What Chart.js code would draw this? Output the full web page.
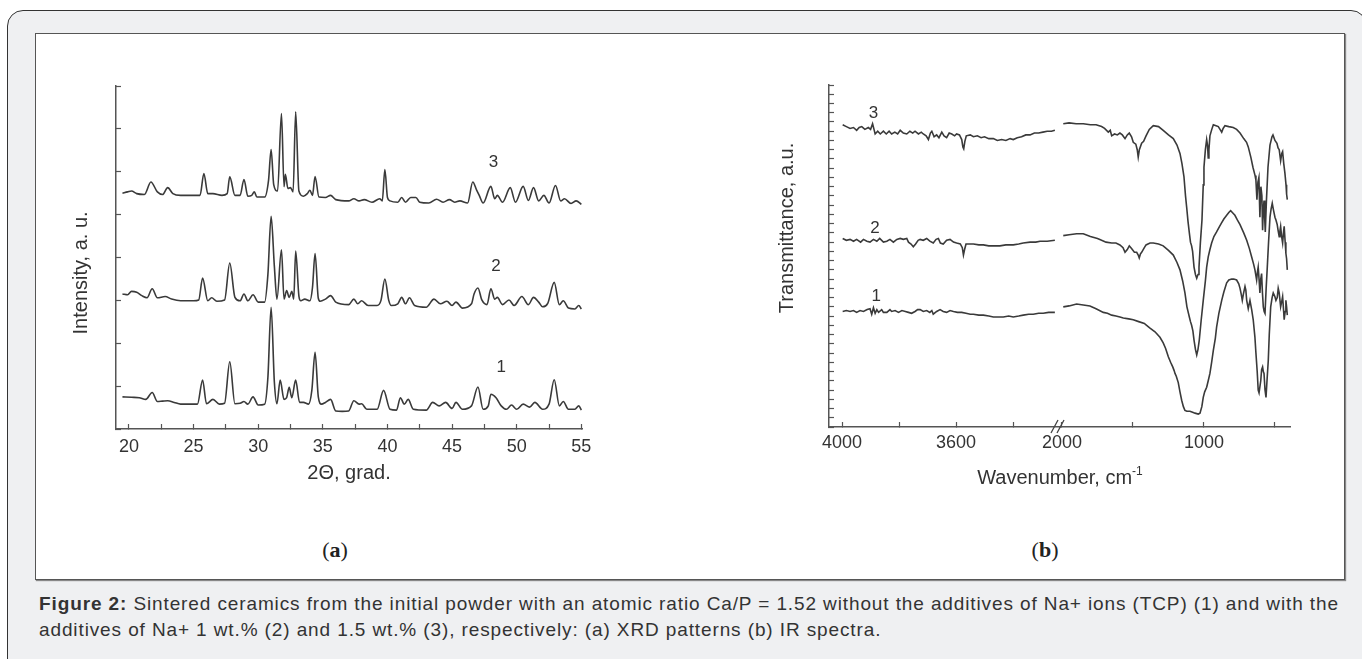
<!DOCTYPE html>
<html>
<head>
<meta charset="utf-8">
<title>Figure 2</title>
<script src="https://cdn.jsdelivr.net/npm/chart.js@4.4.1/dist/chart.umd.min.js"></script>
<style>
  html, body { margin: 0; padding: 0; background: #fff; width: 1362px; height: 659px; overflow: hidden;
               font-family: "Liberation Sans", Arial, sans-serif; }
  #frame { position: absolute; left: 7px; top: 10px; width: 1360px; height: 700px; box-sizing: border-box;
           border: 1.5px solid #333; border-radius: 16px; background: #eff0f2; }
  #figure { position: absolute; left: 35px; top: 33px; width: 1310px; height: 547px; box-sizing: border-box;
            border: 1px solid #555; background: #fff; box-shadow: 1px 1px 1px #888; }
  canvas { position: absolute; }
  #chartXrd { left: 40px; top: 40px; }
  #chartIrHigh { left: 740px; top: 40px; }
  #chartIrLow { left: 1000px; top: 40px; }
  #irTitle { position: absolute; left: 1060px; top: 465px; line-height: 24px; font-size: 20px; color: #333;
             transform: translateX(-50%); white-space: nowrap; }
  #irTitle sup { font-size: 12px; line-height: 0; vertical-align: 9px; }
  .panel-tag { position: absolute; top: 537px; line-height: 26px; font: 22px "Liberation Serif", "DejaVu Serif", serif;
               color: #222; transform: translateX(-50%); }
  #caption { position: absolute; left: 39px; top: 591px; font-size: 19px; letter-spacing: 0.8px; line-height: 26px;
             color: #333; white-space: nowrap; }
</style>
</head>
<body>
<div id="frame"></div>
<div id="figure"></div>
<canvas id="chartXrd" width="600" height="490"></canvas>
<canvas id="chartIrHigh" width="330" height="490"></canvas>
<canvas id="chartIrLow" width="340" height="490"></canvas>
<div id="irTitle">Wavenumber, cm<sup>-1</sup></div>
<div class="panel-tag" style="left:335px">(<b>a</b>)</div>
<div class="panel-tag" style="left:1045px">(<b>b</b>)</div>
<div id="caption"><span id="capLine1"><b>Figure 2:</b> Sintered ceramics from the initial powder with an atomic ratio Ca/P = 1.52 without the additives of Na+ ions (TCP) (1) and with the</span><br>additives of Na+ 1 wt.% (2) and 1.5 wt.% (3), respectively: (a) XRD patterns (b) IR spectra.</div>

<script>
// --- data ---

// XRD, [2theta, intensity a.u.]
const xrd1 = [
  [19.5, 75], [20.2, 74], [20.8, 73], [21.3, 69], [21.8, 85], [22.2, 64], [22.6, 65], [23.0, 66], [23.5, 62],
  [24.0, 58], [24.8, 58], [25.3, 58], [25.7, 114], [26.0, 59], [26.5, 69], [27.0, 58], [27.4, 60], [27.8, 157],
  [28.2, 59], [28.6, 60], [28.9, 64], [29.2, 58], [29.6, 75], [30.0, 56], [30.5, 58], [30.75, 120], [31.0, 284],
  [31.25, 110], [31.45, 59], [31.7, 114], [32.0, 69], [32.2, 73], [32.4, 97], [32.6, 73], [32.9, 114], [33.2, 62],
  [33.5, 62], [33.9, 58], [34.15, 90], [34.4, 179], [34.65, 75], [34.9, 58], [35.2, 62], [35.6, 69], [36.0, 42],
  [36.5, 41], [37.0, 42], [37.4, 66], [37.8, 58], [38.0, 59], [38.4, 46], [39.2, 46], [39.7, 90], [40.2, 46],
  [40.7, 44], [41.0, 73], [41.3, 58], [41.6, 69], [42.0, 46], [43.0, 44], [43.5, 62], [44.0, 54], [44.5, 62],
  [45.0, 48], [45.3, 62], [45.8, 46], [46.5, 54], [47.0, 98], [47.4, 46], [47.8, 54], [48.0, 81], [48.4, 73],
  [48.8, 54], [49.2, 46], [49.6, 56], [50.0, 46], [50.5, 58], [51.0, 51], [51.4, 62], [52.0, 46], [52.5, 58],
  [52.9, 115], [53.3, 54], [53.6, 64], [54.0, 46], [54.5, 46], [54.8, 54], [55.0, 44]
];
const xrd2 = [
  [19.5, 315], [19.9, 313], [20.2, 321], [20.6, 319], [21.0, 311], [21.4, 306], [21.8, 327], [22.2, 306], [22.8, 309],
  [23.3, 303], [24.0, 299], [25.0, 299], [25.4, 301], [25.7, 352], [26.1, 299], [26.4, 306], [26.8, 298], [27.4, 301],
  [27.8, 387], [28.2, 307], [28.6, 299], [28.9, 315], [29.2, 299], [29.6, 313], [30.0, 296], [30.5, 296], [30.75, 360],
  [31.0, 496], [31.25, 380], [31.45, 303], [31.8, 418], [32.0, 303], [32.2, 323], [32.4, 307], [32.6, 321], [32.75, 303],
  [32.9, 415], [33.15, 310], [33.3, 299], [33.6, 303], [34.0, 299], [34.2, 330], [34.4, 409], [34.65, 305], [34.8, 298],
  [35.2, 303], [35.6, 311], [36.0, 296], [37.0, 290], [37.4, 303], [37.7, 292], [38.0, 299], [38.5, 288], [39.2, 288],
  [39.5, 300], [39.8, 350], [40.1, 300], [40.3, 288], [40.8, 292], [41.1, 307], [41.4, 292], [41.7, 306], [42.1, 288],
  [43.0, 284], [43.6, 303], [44.1, 292], [44.6, 298], [45.0, 288], [45.3, 296], [45.8, 282], [46.5, 292], [46.7, 315],
  [47.0, 329], [47.3, 301], [47.7, 290], [48.0, 327], [48.3, 303], [48.5, 307], [48.9, 290], [49.4, 301], [49.8, 288],
  [50.4, 309], [50.9, 290], [51.3, 307], [51.7, 296], [52.0, 285], [52.4, 293], [52.9, 342], [53.3, 290], [53.6, 299],
  [54.0, 282], [54.5, 280], [54.8, 288], [55.0, 280]
];
const xrd3 = [
  [19.5, 550], [19.9, 553], [20.2, 555], [20.6, 549], [21.2, 547], [21.7, 576], [22.2, 553], [22.6, 547], [23.0, 563],
  [23.4, 549], [24.0, 545], [25.0, 545], [25.5, 545], [25.8, 596], [26.1, 549], [26.5, 549], [27.2, 545], [27.6, 549],
  [27.8, 588], [28.2, 545], [28.6, 545], [28.9, 582], [29.2, 543], [29.5, 545], [29.7, 553], [29.9, 541], [30.5, 541],
  [30.8, 580], [31.0, 652], [31.2, 570], [31.5, 555], [31.8, 736], [32.0, 565], [32.1, 594], [32.3, 561], [32.5, 563],
  [32.7, 553], [32.9, 740], [33.15, 555], [33.5, 543], [33.8, 549], [34.0, 557], [34.2, 545], [34.4, 589], [34.7, 541],
  [35.2, 540], [35.6, 545], [36.0, 535], [37.0, 532], [37.4, 537], [37.8, 532], [38.2, 535], [38.8, 529], [39.4, 537],
  [39.6, 532], [39.8, 605], [40.0, 540], [40.2, 532], [40.8, 529], [41.1, 540], [41.4, 529], [41.8, 540], [42.2, 540],
  [42.5, 529], [43.2, 527], [43.8, 536], [44.3, 529], [44.8, 535], [45.2, 529], [45.6, 532], [46.2, 527], [46.6, 576],
  [46.9, 557], [47.1, 545], [47.4, 527], [48.0, 566], [48.3, 537], [48.5, 545], [48.9, 529], [49.5, 563], [49.9, 529],
  [50.5, 566], [50.9, 533], [51.3, 563], [51.7, 532], [52.1, 545], [52.5, 527], [53.0, 568], [53.4, 532], [53.7, 537],
  [54.2, 526], [54.6, 532], [55.0, 524]
];

// IR, [wavenumber, transmittance a.u.] - high range (left of the break)
const ir1High = [
  [3998, 125], [3985, 126], [3972, 125], [3960, 126], [3949, 124], [3937, 126], [3925, 125], [3912, 127], [3902, 128],
  [3896, 122], [3890, 129], [3884, 123], [3878, 127], [3872, 124], [3861, 127], [3855, 124], [3843, 124], [3832, 127],
  [3826, 125], [3814, 126], [3802, 124], [3790, 126], [3778, 125], [3767, 124], [3756, 123], [3744, 125], [3735, 127],
  [3726, 127], [3715, 125], [3703, 126], [3692, 124], [3685, 126], [3680, 122], [3668, 125], [3656, 127], [3645, 125],
  [3633, 124], [3621, 126], [3609, 125], [3595, 124], [3580, 124], [3565, 123], [3550, 122], [3539, 122], [3520, 121],
  [3504, 121], [3485, 120], [3469, 119], [3450, 119], [3434, 119], [3415, 120], [3399, 119], [3380, 120], [3364, 121],
  [3345, 122], [3329, 122], [3310, 123], [3294, 123], [3275, 124], [3253, 124]
];
const ir2High = [
  [3998, 204], [3985, 202], [3972, 203], [3960, 201], [3949, 203], [3935, 200], [3925, 203], [3913, 201], [3902, 200],
  [3890, 203], [3878, 201], [3868, 204], [3855, 200], [3843, 201], [3832, 203], [3820, 200], [3808, 203], [3796, 204],
  [3785, 203], [3773, 204], [3767, 200], [3758, 198], [3750, 195], [3742, 198], [3733, 202], [3726, 203], [3715, 202],
  [3703, 204], [3692, 201], [3680, 199], [3670, 203], [3662, 204], [3655, 199], [3645, 198], [3633, 202], [3621, 203],
  [3609, 200], [3598, 199], [3585, 198], [3578, 194], [3574, 186], [3570, 192], [3565, 198], [3550, 198], [3539, 198],
  [3520, 197], [3504, 197], [3485, 196], [3469, 196], [3446, 196], [3425, 197], [3399, 197], [3380, 198], [3364, 199],
  [3340, 200], [3320, 200], [3305, 201], [3280, 201], [3253, 202]
];
const ir3High = [
  [3998, 327], [3985, 325], [3972, 323], [3960, 324], [3949, 321], [3940, 324], [3931, 325], [3920, 322], [3908, 324],
  [3900, 322], [3893, 328], [3888, 322], [3884, 317], [3875, 320], [3866, 317], [3855, 320], [3845, 317], [3835, 320],
  [3826, 317], [3815, 319], [3805, 317], [3796, 321], [3785, 318], [3773, 317], [3762, 320], [3752, 318], [3744, 320],
  [3732, 317], [3722, 319], [3715, 317], [3705, 315], [3697, 311], [3690, 318], [3685, 320], [3677, 314], [3668, 316],
  [3660, 313], [3650, 319], [3642, 315], [3633, 313], [3624, 318], [3615, 317], [3605, 315], [3598, 317], [3588, 316],
  [3580, 311], [3576, 303], [3573, 301], [3569, 309], [3564, 315], [3550, 316], [3539, 314], [3525, 315], [3512, 313],
  [3500, 314], [3485, 312], [3469, 312], [3455, 310], [3440, 311], [3425, 310], [3410, 312], [3399, 311], [3385, 313],
  [3370, 314], [3355, 316], [3340, 316], [3325, 318], [3310, 318], [3295, 319], [3280, 320], [3265, 320], [3253, 321]
];

// IR - low range (right of the break)
const ir1Low = [
  [1991, 130], [1950, 131], [1897, 133], [1850, 132], [1803, 131], [1760, 128], [1709, 124], [1680, 123], [1650, 121],
  [1620, 120], [1592, 119], [1568, 118], [1530, 117], [1498, 116], [1460, 114], [1420, 112], [1404, 110], [1380, 107],
  [1345, 103], [1310, 97], [1287, 91], [1270, 85], [1251, 76], [1235, 70], [1220, 65], [1210, 61], [1204, 58],
  [1195, 55], [1181, 48], [1169, 38], [1157, 29], [1145, 22], [1134, 18], [1120, 17], [1099, 17], [1080, 16],
  [1063, 15], [1040, 14], [1028, 15], [1015, 22], [1005, 32], [995, 38], [981, 43], [970, 50], [958, 58], [946, 70],
  [934, 83], [920, 96], [911, 108], [895, 123], [875, 137], [860, 146], [840, 156], [825, 159], [805, 160], [790, 160],
  [770, 159], [755, 155], [746, 150], [738, 144], [730, 137], [722, 144], [711, 152], [705, 148], [699, 137], [688, 128],
  [676, 137], [664, 127], [653, 116], [641, 97], [634, 80], [625, 60], [618, 40], [612, 37], [606, 37], [600, 50],
  [594, 62], [587, 65], [582, 60], [577, 58], [570, 40], [563, 32], [556, 50], [547, 72], [540, 100], [530, 130],
  [520, 140], [512, 145], [500, 141], [493, 137], [484, 140], [477, 150], [470, 145], [460, 130], [452, 136], [446, 141],
  [440, 128], [435, 116], [428, 125], [423, 137], [418, 130], [413, 121]
];
const ir2Low = [
  [1991, 207], [1950, 208], [1897, 209], [1850, 209], [1800, 206], [1750, 204], [1721, 202], [1690, 200], [1650, 199],
  [1620, 199], [1592, 197], [1570, 194], [1556, 189], [1540, 192], [1526, 196], [1510, 193], [1490, 189], [1474, 189],
  [1463, 186], [1456, 183], [1448, 187], [1439, 189], [1420, 194], [1408, 197], [1380, 199], [1357, 199], [1320, 198],
  [1287, 196], [1250, 191], [1216, 186], [1190, 178], [1169, 170], [1150, 158], [1134, 145], [1120, 130], [1103, 119],
  [1095, 114], [1087, 110], [1078, 104], [1070, 94], [1060, 84], [1051, 78], [1042, 84], [1033, 94], [1020, 115],
  [1005, 137], [990, 158], [981, 173], [970, 184], [958, 192], [946, 199], [930, 206], [911, 211], [890, 217], [875, 221],
  [860, 225], [840, 229], [825, 232], [812, 234], [800, 232], [782, 229], [765, 224], [746, 219], [720, 210], [699, 202],
  [680, 193], [664, 184], [650, 176], [641, 170], [629, 159], [623, 168], [618, 173], [611, 158], [606, 145], [600, 160],
  [594, 166], [588, 145], [582, 130], [576, 125], [570, 123], [562, 150], [554, 173], [545, 200], [535, 227], [527, 236],
  [519, 242], [512, 236], [500, 227], [493, 224], [484, 219], [477, 212], [470, 206], [465, 212], [460, 217], [453, 206],
  [446, 199], [440, 210], [435, 217], [428, 200], [423, 188], [418, 182], [413, 170]
];
const ir3Low = [
  [1991, 328], [1950, 329], [1900, 328], [1850, 328], [1800, 327], [1760, 327], [1721, 325], [1700, 323], [1674, 319],
  [1660, 321], [1650, 315], [1630, 317], [1610, 316], [1592, 318], [1575, 316], [1556, 312], [1540, 316], [1526, 318],
  [1510, 314], [1498, 308], [1480, 306], [1470, 300], [1463, 292], [1455, 300], [1439, 307], [1425, 309], [1408, 315],
  [1385, 322], [1357, 326], [1320, 325], [1287, 321], [1250, 316], [1216, 312], [1190, 305], [1169, 296], [1155, 285],
  [1141, 271], [1130, 250], [1122, 238], [1112, 222], [1103, 210], [1095, 200], [1087, 196], [1080, 190], [1070, 173],
  [1060, 165], [1051, 161], [1042, 165], [1035, 173], [1025, 200], [1014, 224], [1005, 262], [1000, 281], [990, 300],
  [981, 311], [975, 305], [970, 291], [965, 300], [958, 315], [945, 322], [934, 327], [915, 326], [899, 325], [887, 322],
  [875, 319], [865, 323], [852, 326], [825, 325], [794, 324], [770, 322], [746, 318], [720, 312], [700, 308], [688, 303],
  [670, 292], [655, 281], [640, 272], [634, 267], [627, 246], [620, 265], [613, 270], [606, 227], [599, 260], [592, 250],
  [587, 213], [582, 235], [577, 245], [572, 225], [568, 211], [560, 245], [549, 281], [535, 305], [521, 314], [514, 316],
  [500, 310], [486, 307], [478, 302], [470, 300], [460, 288], [452, 296], [446, 298], [438, 285], [430, 275], [422, 262],
  [418, 252], [413, 246]
];

// tick positions, and the ticks that carry a number (the rest are unlabelled minor ticks)
const xrdTicks = [20, 22.5, 25, 27.5, 30, 32.5, 35, 37.5, 40, 42.5, 45, 47.5, 50, 52.5, 55];
const xrdTickLabels = [20, 25, 30, 35, 40, 45, 50, 55];
const irHighTicks = [4000, 3800, 3600, 3400];
const irLowTicks = [2000, 1500, 1000, 500];
const irTickLabels = [4000, 3600, 2000, 1000];

// curve numbers, placed in data units
const curveNames = ['1', '2', '3'];
const xrdNameAt = [[48.8, 143], [48.4, 380], [48.2, 621]];
const irNameAt = [[3880, 141], [3885, 215], [3890, 339]];

// --- shared styling ---
const LINE = '#3a3a3a';
const AXIS = '#555';
const TEXT = '#333';
const FONT = '"Liberation Sans", Arial, sans-serif';
const tickFont = { family: FONT, size: 18 };

function curve(data, smooth) {
  return { data: data, borderColor: LINE, borderWidth: 1.6, pointRadius: 0, fill: false,
           tension: smooth ? 0.4 : 0, cubicInterpolationMode: smooth ? 'monotone' : 'default' };
}

function xAxis(min, max, tickValues, labels, padding, height) {
  return {
    type: 'linear', min: min, max: max,
    border: { color: AXIS, width: 1.5 },
    grid: { drawOnChartArea: false, tickLength: -5, color: AXIS, tickWidth: 1.2 },
    ticks: { padding: padding, color: TEXT, font: tickFont, maxRotation: 0, autoSkip: false,
             callback: v => labels.includes(v) ? String(v) : '' },
    afterBuildTicks: s => { s.ticks = tickValues.map(v => ({ value: v })); },
    afterFit: s => { s.height = height; }
  };
}

function yAxis(max, step, width, show) {
  return {
    min: 0, max: max, display: show,
    border: { color: AXIS, width: 1.5 },
    grid: { drawOnChartArea: false, tickLength: -5, color: AXIS, tickWidth: 1.2 },
    ticks: { stepSize: step, display: false },
    afterFit: s => { s.width = width; }
  };
}

// text the chart has no slot for: curve numbers, rotated y title, axis break mark
function figureText(cfg) {
  return {
    id: 'figureText',
    afterDraw(chart) {
      const ctx = chart.ctx;
      const area = chart.chartArea;
      ctx.save();
      ctx.fillStyle = TEXT;
      ctx.textAlign = 'center';
      ctx.textBaseline = 'middle';

      if (cfg.names) {
        ctx.font = '17px ' + FONT;
        cfg.names.forEach((pos, i) => {
          ctx.fillText(curveNames[i], chart.scales.x.getPixelForValue(pos[0]), chart.scales.y.getPixelForValue(pos[1]));
        });
      }

      if (cfg.yTitle) {
        ctx.save();
        ctx.font = '20px ' + FONT;
        ctx.translate(area.left + cfg.yTitle.dx, area.top + (area.bottom - area.top) * cfg.yTitle.frac);
        ctx.rotate(-Math.PI / 2);
        ctx.fillText(cfg.yTitle.text, 0, 0);
        ctx.restore();
      }

      if (cfg.breakMark) {
        const bx = area.left, by = area.bottom;
        ctx.strokeStyle = '#444';
        ctx.lineWidth = 1.3;
        ctx.beginPath();
        ctx.moveTo(bx - 9, by + 6); ctx.lineTo(bx - 2, by - 7);
        ctx.moveTo(bx - 3, by + 6); ctx.lineTo(bx + 4, by - 7);
        ctx.stroke();
      }
      ctx.restore();
    }
  };
}

const baseOptions = { responsive: false, animation: false, events: [],
                      plugins: { legend: { display: false }, tooltip: { enabled: false } } };

// --- (a) XRD ---
const xrdX = xAxis(19, 55.05, xrdTicks, xrdTickLabels, 12, 101);
xrdX.title = { display: true, text: '2Θ, grad.', color: TEXT, font: { family: FONT, size: 20 },
               padding: { top: 0, bottom: 45 } };
new Chart(document.getElementById('chartXrd'), {
  type: 'line',
  data: { datasets: [curve(xrd1, true), curve(xrd2, true), curve(xrd3, true)] },
  options: Object.assign({}, baseOptions, {
    layout: { padding: { left: 0, top: 46, right: 58, bottom: 0 } },
    scales: { x: xrdX, y: yAxis(800, 100, 76, true) }
  }),
  plugins: [figureText({ names: xrdNameAt, yTitle: { text: 'Intensity, a. u.', dx: -35, frac: 0.545 } })]
});

// --- (b) IR, broken wavenumber axis: high range and low range side by side ---
const irHighX = xAxis(3235, 4046, irHighTicks, irTickLabels, 10, 103);
irHighX.reverse = true;
new Chart(document.getElementById('chartIrHigh'), {
  type: 'line',
  data: { datasets: [curve(ir1High), curve(ir2High), curve(ir3High)] },
  options: Object.assign({}, baseOptions, {
    layout: { padding: { left: 0, top: 45, right: 10, bottom: 0 } },
    scales: { x: irHighX, y: yAxis(370, 10, 89, true) }
  }),
  plugins: [figureText({ names: irNameAt, yTitle: { text: 'Transmittance, a.u.', dx: -42, frac: 0.418 } })]
});

const irLowX = xAxis(394, 2014, irLowTicks, irTickLabels, 10, 103);
irLowX.reverse = true;
new Chart(document.getElementById('chartIrLow'), {
  type: 'line',
  data: { datasets: [curve(ir1Low), curve(ir2Low), curve(ir3Low)] },
  options: Object.assign({}, baseOptions, {
    layout: { padding: { left: 60, top: 45, right: 50, bottom: 0 } },
    scales: { x: irLowX, y: yAxis(370, 10, 0, false) }
  }),
  plugins: [figureText({ breakMark: true })]
});

// the caption's first line runs the full width of the figure box in the original
function fitCaption() {
  const cap = document.getElementById('caption');
  const line1 = document.getElementById('capLine1');
  cap.style.letterSpacing = '0px';
  const w = line1.getBoundingClientRect().width;
  cap.style.letterSpacing = ((1300 - w) / line1.textContent.length).toFixed(3) + 'px';
}
fitCaption();
if (document.fonts) document.fonts.ready.then(fitCaption);
</script>
</body>
</html>
